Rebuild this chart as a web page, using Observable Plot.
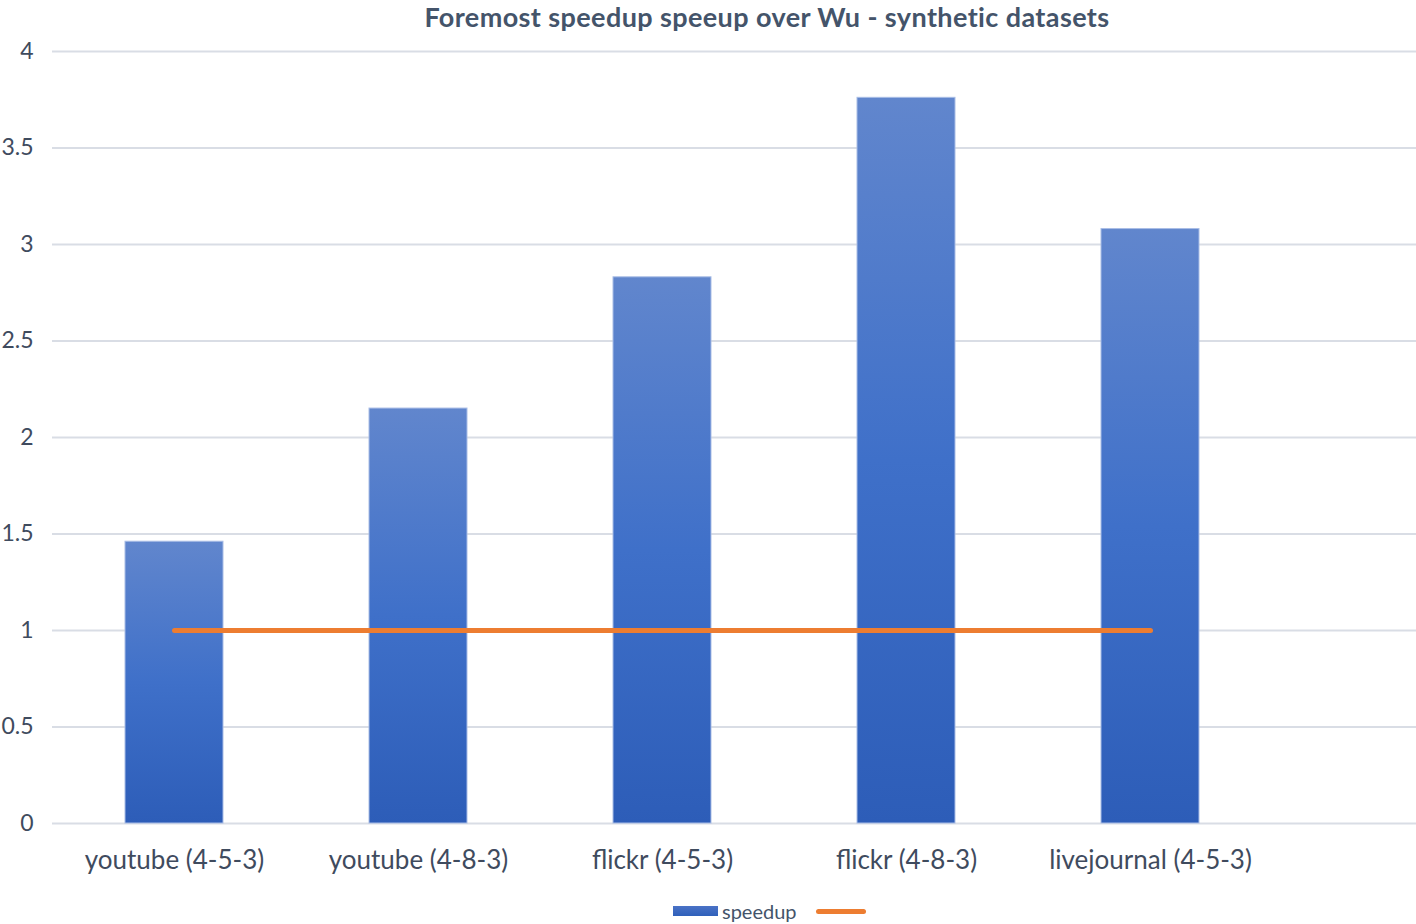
<!DOCTYPE html>
<html>
<head>
<meta charset="utf-8">
<script src="https://cdn.jsdelivr.net/npm/d3@7"></script>
<script src="https://cdn.jsdelivr.net/npm/@observablehq/plot@0.6"></script>
<style>
  html, body { margin: 0; padding: 0; background: #fff; }
  body { width: 1416px; height: 924px; overflow: hidden; font-family: Lato, "Open Sans", sans-serif; }
  #title { height: 26px; font-size: 27px; font-weight: bold; color: #44546a; position: relative; }
  #title span { position: absolute; left: 767px; transform: translateX(-50%); white-space: nowrap; top: 0px; line-height: normal; letter-spacing: 0.4px; }
  #legend { position: relative; height: 26px; }
  .lg { position: absolute; top: 0; height: 26px; display: flex; align-items: center; }
</style>
</head>
<body>
<div id="title"><span>Foremost speedup speeup over Wu - synthetic datasets</span></div>
<div id="chart"></div>
<div id="legend">
  <div class="lg" style="left:673px;"><div style="width:45px;height:10px;background:linear-gradient(#4a72c6,#2f60ba);"></div></div>
  <div class="lg" style="left:722px;font-size:20px;color:#44546a;">speedup</div>
  <div class="lg" style="left:816px;"><div style="width:50px;height:5px;border-radius:3px;background:#ed7d31;"></div></div>
</div>
<script>
const categories = ["youtube (4-5-3)", "youtube (4-8-3)", "flickr (4-5-3)", "flickr (4-8-3)", "livejournal (4-5-3)"];
const speedup = [1.46, 2.15, 2.83, 3.76, 3.08];
const baseline = [1, 1, 1, 1, 1];
const yTicks = [0, 0.5, 1, 1.5, 2, 2.5, 3, 3.5, 4];

const data = categories.map((c, i) => ({cat: c, speedup: speedup[i], baseline: baseline[i]}));

const svg = Plot.plot({
  width: 1416,
  height: 872,
  marginTop: 25,
  marginBottom: 75,
  marginLeft: 52,
  marginRight: 0,
  style: {fontFamily: "Lato, 'Open Sans', sans-serif", background: "#fff"},
  x: {domain: categories, range: [52, 1272], paddingInner: 0.6, paddingOuter: 0.3, label: null},
  y: {domain: [0, 4], label: null},
  marks: [
    Plot.ruleY(yTicks, {stroke: "#d9dde5", strokeWidth: 2}),
    Plot.barY(data, {x: "cat", y: "speedup", fill: "url(#barGrad)", stroke: "#a9bde6", strokeWidth: 1}),
    Plot.lineY(data, {x: "cat", y: "baseline", stroke: "#ed7d31", strokeWidth: 5, strokeLinecap: "round"}),
    Plot.axisY(yTicks, {tickSize: 0, tickPadding: 19, tickFormat: d => String(d), fontSize: 23, fill: "#3f4b5e", label: null}),
    Plot.axisX({tickSize: 0, tickPadding: 27, fontSize: 26, fill: "#3f4b5e", label: null})
  ]
});

const ns = "http://www.w3.org/2000/svg";
const defs = document.createElementNS(ns, "defs");
defs.innerHTML = '<linearGradient id="barGrad" x1="0" y1="0" x2="0" y2="1">' +
  '<stop offset="0" stop-color="#6186cd"/>' +
  '<stop offset="0.5" stop-color="#3f70c9"/>' +
  '<stop offset="1" stop-color="#2d5db8"/></linearGradient>';
svg.insertBefore(defs, svg.firstChild);
document.getElementById("chart").appendChild(svg);
</script>
</body>
</html>
